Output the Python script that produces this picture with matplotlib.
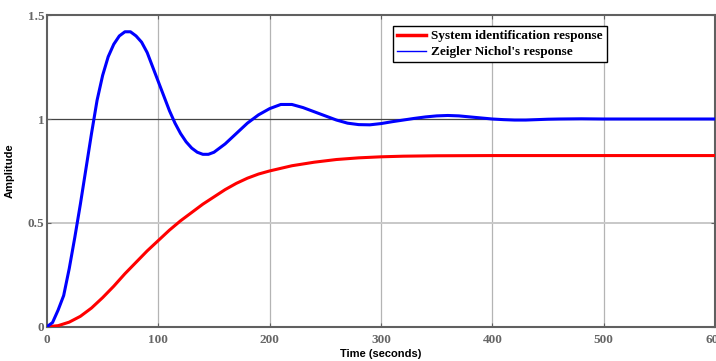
import matplotlib
matplotlib.use("Agg")
import matplotlib.pyplot as plt
from matplotlib.lines import Line2D

# Zeigler Nichol's response (blue)
t_zn = [0, 5, 10, 15, 20, 25, 30, 35, 40, 45, 50, 55, 60, 65, 70, 75, 80, 85, 90, 95,
        100, 105, 110, 115, 120, 125, 130, 135, 140, 145, 150, 155, 160, 170, 180, 190,
        200, 210, 220, 230, 240, 250, 260, 270, 280, 290, 300, 310, 320, 330, 340, 350,
        360, 370, 380, 390, 400, 410, 420, 430, 440, 450, 460, 480, 500, 550, 600]
y_zn = [0, 0.02, 0.08, 0.15, 0.28, 0.43, 0.59, 0.76, 0.93, 1.09, 1.21, 1.30, 1.36, 1.40, 1.42, 1.42,
        1.40, 1.37, 1.32, 1.25, 1.18, 1.11, 1.04, 0.98, 0.93, 0.89, 0.86, 0.84, 0.83, 0.83,
        0.84, 0.86, 0.88, 0.93, 0.98, 1.02, 1.05, 1.07, 1.07, 1.055, 1.035, 1.015, 0.995,
        0.98, 0.973, 0.972, 0.978, 0.987, 0.995, 1.003, 1.01, 1.015, 1.017, 1.015, 1.01,
        1.005, 1.0, 0.997, 0.995, 0.995, 0.997, 0.999, 1.0, 1.001, 1.0, 1.0, 1.0]

# System identification response (red)
t_sys = [0, 10, 20, 30, 40, 50, 60, 70, 80, 90, 100, 110, 120, 130, 140, 150, 160, 170,
         180, 190, 200, 220, 240, 260, 280, 300, 320, 350, 400, 600]
y_sys = [0, 0.005, 0.022, 0.05, 0.09, 0.14, 0.195, 0.255, 0.31, 0.365, 0.415, 0.465, 0.51,
         0.55, 0.59, 0.625, 0.66, 0.69, 0.715, 0.735, 0.75, 0.775, 0.792, 0.805, 0.813,
         0.818, 0.821, 0.823, 0.824, 0.824]

x_ticks = [0, 100, 200, 300, 400, 500, 600]
y_ticks = [0, 0.5, 1, 1.5]
y_tick_labels = ['0', '0.5', '1', '1.5']
legend_labels = ['System identification response', "Zeigler Nichol's response"]

fig = plt.figure(figsize=(7.16, 3.61), dpi=100)
ax = fig.add_axes([0.0656, 0.095, 0.933, 0.863])

# grid MATLAB style
for xv in x_ticks[1:-1]:
    ax.axvline(xv, color='#b4b4b4', lw=0.9, zorder=1)
ax.axhline(0.5, color='#c8c8c8', lw=1.4, zorder=1)
ax.axhline(1.0, color='#444444', lw=0.9, zorder=1)

ax.plot(t_sys, y_sys, color='#ff0000', lw=2.2, zorder=3)
ax.plot(t_zn, y_zn, color='#0000ff', lw=2.2, zorder=3)

ax.set_xlim(0, 600)
ax.set_ylim(0, 1.5)
ax.set_xticks(x_ticks)
ax.set_yticks(y_ticks)
ax.set_yticklabels(y_tick_labels)

for s in ax.spines.values():
    s.set_color('#606060')
    s.set_linewidth(1.5)

ax.tick_params(direction='in', length=3, width=0.8, color='#606060',
               top=True, right=True, labelcolor='#666666')
ax.tick_params(axis='x', pad=5)
ax.tick_params(axis='y', pad=2)
for lab in ax.get_xticklabels() + ax.get_yticklabels():
    lab.set_family('Liberation Serif')
    lab.set_fontweight('bold')
    lab.set_fontsize(9.5)

ax.set_xlabel('Time (seconds)', family='Liberation Sans', fontweight='bold', fontsize=8)
ax.xaxis.set_label_coords(0.5, -0.072)
ax.set_ylabel('Amplitude', family='Liberation Sans', fontweight='bold', fontsize=8)
ax.yaxis.set_label_coords(-0.048, 0.5)

handles = [Line2D([], [], color='#ff0000', lw=2.5),
           Line2D([], [], color='#0000ff', lw=1.0)]
leg = ax.legend(handles, legend_labels, loc='upper left',
                bbox_to_anchor=(393 / 716, 1 - 26 / 361), bbox_transform=fig.transFigure,
                prop={'family': 'Liberation Serif', 'weight': 'bold', 'size': 9.5},
                fancybox=False, framealpha=1, edgecolor='black',
                handlelength=2.2, handletextpad=0.4, borderpad=0.3, labelspacing=0.3,
                borderaxespad=0)
leg.get_frame().set_linewidth(1.0)

fig.savefig('out.png', dpi=100)
